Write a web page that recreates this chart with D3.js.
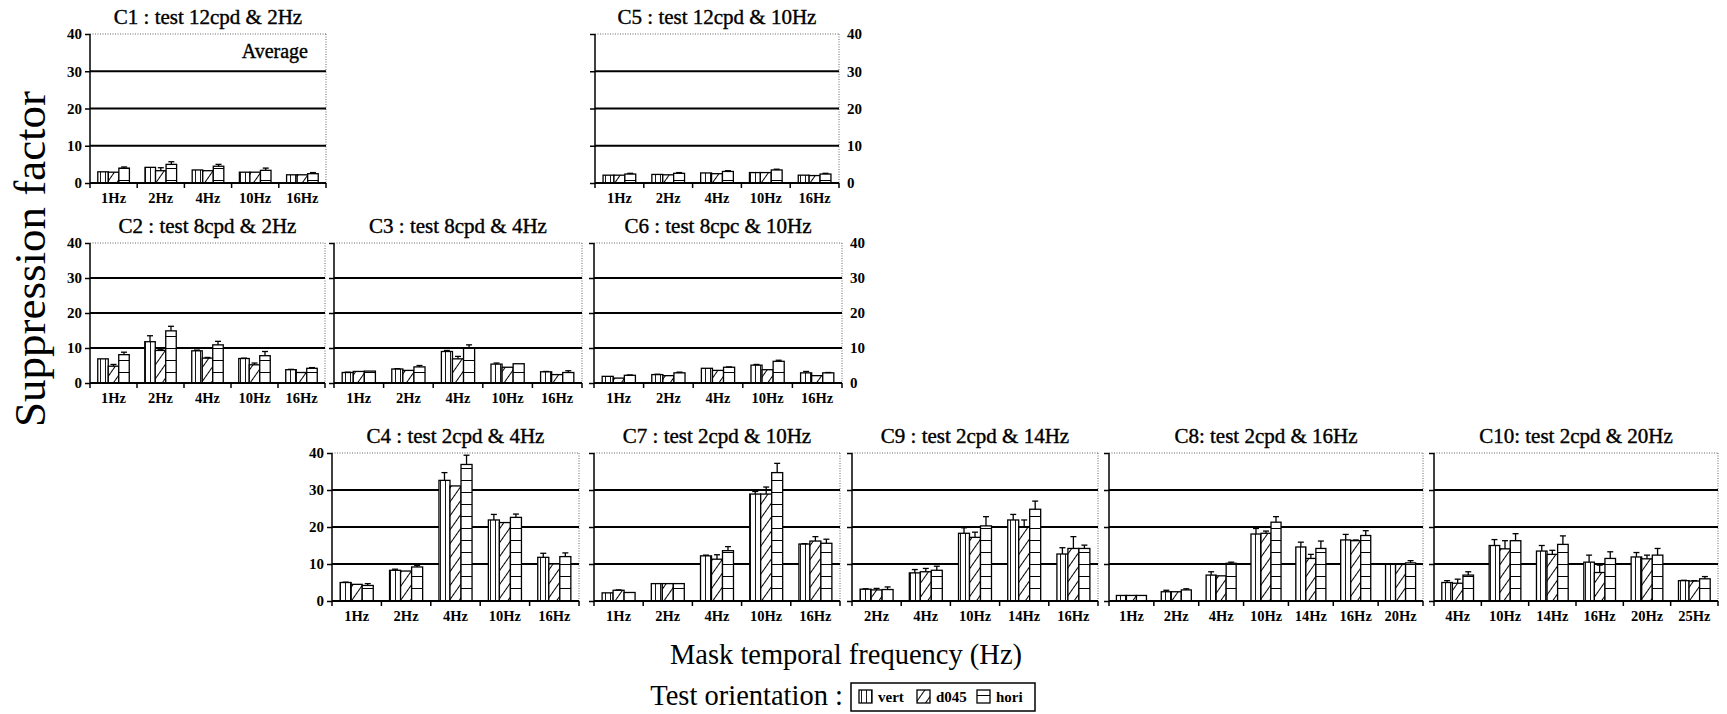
<!DOCTYPE html>
<html>
<head>
<meta charset="utf-8">
<script src="https://cdn.jsdelivr.net/npm/d3@7"></script>
<style>
  body { margin: 0; background: #fff; }
  svg { display: block; }
</style>
</head>
<body>
<div id="chart"></div>
<script>
// ---- data (suppression factor) ----
const seriesNames = ['vert', 'd045', 'hori'];
const yTicks = [0, 10, 20, 30, 40];

const c1Cats = ['1Hz', '2Hz', '4Hz', '10Hz', '16Hz'];
const c1Vert = [3.0, 4.2, 3.5, 2.9, 2.2];
const c1D045 = [2.9, 3.3, 3.3, 2.9, 2.2];
const c1Hori = [4.0, 5.0, 4.5, 3.4, 2.5];
const c1ErrVert = [0, 0, 0, 0, 0];
const c1ErrD045 = [0, 0.8, 0, 0, 0];
const c1ErrHori = [0.3, 0.7, 0.5, 0.6, 0.3];

const c5Cats = ['1Hz', '2Hz', '4Hz', '10Hz', '16Hz'];
const c5Vert = [2.1, 2.3, 2.7, 2.8, 2.1];
const c5D045 = [2.1, 2.2, 2.5, 2.8, 2.0];
const c5Hori = [2.4, 2.6, 3.1, 3.5, 2.4];
const c5ErrVert = [0, 0, 0, 0, 0];
const c5ErrD045 = [0, 0, 0, 0, 0];
const c5ErrHori = [0.2, 0.2, 0.2, 0.2, 0.2];

const c2Cats = ['1Hz', '2Hz', '4Hz', '10Hz', '16Hz'];
const c2Vert = [6.9, 11.8, 9.2, 7.0, 3.8];
const c2D045 = [4.8, 9.3, 7.1, 5.2, 3.0];
const c2Hori = [8.1, 14.9, 10.9, 7.8, 4.2];
const c2ErrVert = [0, 1.7, 0.2, 0.1, 0.1];
const c2ErrD045 = [0.5, 0.2, 0.2, 0.5, 0];
const c2ErrHori = [0.7, 1.3, 1.0, 1.2, 0.2];

const c3Cats = ['1Hz', '2Hz', '4Hz', '10Hz', '16Hz'];
const c3Vert = [3.0, 4.0, 9.0, 5.4, 3.2];
const c3D045 = [3.3, 3.6, 6.9, 4.5, 2.4];
const c3Hori = [3.4, 4.6, 9.9, 5.5, 3.0];
const c3ErrVert = [0.1, 0.1, 0.3, 0.3, 0.1];
const c3ErrD045 = [0, 0, 0.7, 0, 0];
const c3ErrHori = [0, 0.4, 1.0, 0, 0.5];

const c6Cats = ['1Hz', '2Hz', '4Hz', '10Hz', '16Hz'];
const c6Vert = [1.9, 2.4, 4.2, 5.1, 2.9];
const c6D045 = [1.4, 2.1, 3.6, 3.8, 2.1];
const c6Hori = [2.2, 2.9, 4.5, 6.2, 2.9];
const c6ErrVert = [0, 0.1, 0, 0.2, 0.4];
const c6ErrD045 = [0, 0, 0, 0, 0];
const c6ErrHori = [0.1, 0.2, 0.1, 0.3, 0.1];

const c4Cats = ['1Hz', '2Hz', '4Hz', '10Hz', '16Hz'];
const c4Vert = [5.0, 8.3, 32.6, 21.9, 11.8];
const c4D045 = [4.5, 8.1, 31.1, 21.2, 10.0];
const c4Hori = [4.2, 9.2, 36.9, 22.6, 12.0];
const c4ErrVert = [0.1, 0.3, 2.1, 1.5, 1.1];
const c4ErrD045 = [0, 0, 0, 0, 0];
const c4ErrHori = [0.5, 0.4, 2.5, 0.9, 1.0];

const c7Cats = ['1Hz', '2Hz', '4Hz', '10Hz', '16Hz'];
const c7Vert = [2.2, 4.7, 12.2, 28.9, 15.4];
const c7D045 = [2.9, 4.7, 11.3, 28.9, 16.2];
const c7Hori = [2.3, 4.7, 13.6, 34.7, 15.6];
const c7ErrVert = [0, 0, 0.2, 0.7, 0.1];
const c7ErrD045 = [0.1, 0, 1.2, 1.9, 1.2];
const c7ErrHori = [0, 0, 1.1, 2.5, 1.1];

const c9Cats = ['2Hz', '4Hz', '10Hz', '14Hz', '16Hz'];
const c9Vert = [3.2, 7.6, 18.3, 21.9, 12.7];
const c9D045 = [3.0, 7.9, 17.2, 19.9, 14.2];
const c9Hori = [3.1, 8.3, 20.3, 24.8, 14.2];
const c9ErrVert = [0.1, 0.9, 1.5, 1.5, 1.7];
const c9ErrD045 = [0.4, 0.9, 1.4, 2.0, 3.2];
const c9ErrHori = [0.7, 1.1, 2.5, 2.2, 0.9];

const c8Cats = ['1Hz', '2Hz', '4Hz', '10Hz', '14Hz', '16Hz', '20Hz'];
const c8Vert = [1.5, 2.5, 7.0, 18.1, 14.6, 16.5, 9.9];
const c8D045 = [1.5, 2.5, 6.8, 18.3, 11.5, 16.3, 9.9];
const c8Hori = [1.5, 3.0, 10.2, 21.3, 14.2, 17.7, 10.3];
const c8ErrVert = [0, 0.4, 0.9, 1.5, 1.3, 1.5, 0.2];
const c8ErrD045 = [0, 0, 0, 0.6, 1.1, 0.2, 0.2];
const c8ErrHori = [0, 0.3, 0.3, 1.5, 2.0, 1.3, 0.6];

const c10Cats = ['4Hz', '10Hz', '14Hz', '16Hz', '20Hz', '25Hz'];
const c10Vert = [5.0, 15.0, 13.5, 10.5, 11.9, 5.5];
const c10D045 = [4.8, 14.1, 12.6, 7.7, 11.4, 5.4];
const c10Hori = [7.0, 16.3, 15.3, 11.5, 12.4, 6.0];
const c10ErrVert = [0.5, 1.6, 1.5, 1.9, 1.2, 0.1];
const c10ErrD045 = [1.1, 2.2, 1.1, 2.0, 1.0, 0.1];
const c10ErrHori = [0.9, 1.9, 2.3, 1.8, 1.8, 0.6];

// ---- layout ----
const W = 1727, H = 714;
const serif = '"Liberation Serif", "Times New Roman", serif';
const rows = { top: [34, 183], mid: [243, 383], bot: [453, 601] };

const panels = [
    { title: 'C1 : test 12cpd & 2Hz', x: [90, 326], row: rows.top, axis: 'left',
      cats: c1Cats, vals: [c1Vert, c1D045, c1Hori], errs: [c1ErrVert, c1ErrD045, c1ErrHori], note: 'Average' },
    { title: 'C5 : test 12cpd & 10Hz', x: [595, 839], row: rows.top, axis: 'right',
      cats: c5Cats, vals: [c5Vert, c5D045, c5Hori], errs: [c5ErrVert, c5ErrD045, c5ErrHori] },
    { title: 'C2 : test 8cpd & 2Hz', x: [90, 325], row: rows.mid, axis: 'left',
      cats: c2Cats, vals: [c2Vert, c2D045, c2Hori], errs: [c2ErrVert, c2ErrD045, c2ErrHori] },
    { title: 'C3 : test 8cpd & 4Hz', x: [334, 582], row: rows.mid, axis: 'none',
      cats: c3Cats, vals: [c3Vert, c3D045, c3Hori], errs: [c3ErrVert, c3ErrD045, c3ErrHori] },
    { title: 'C6 : test 8cpc & 10Hz', x: [594, 842], row: rows.mid, axis: 'right',
      cats: c6Cats, vals: [c6Vert, c6D045, c6Hori], errs: [c6ErrVert, c6ErrD045, c6ErrHori] },
    { title: 'C4 : test 2cpd & 4Hz', x: [332, 579], row: rows.bot, axis: 'left',
      cats: c4Cats, vals: [c4Vert, c4D045, c4Hori], errs: [c4ErrVert, c4ErrD045, c4ErrHori] },
    { title: 'C7 : test 2cpd & 10Hz', x: [594, 840], row: rows.bot, axis: 'none',
      cats: c7Cats, vals: [c7Vert, c7D045, c7Hori], errs: [c7ErrVert, c7ErrD045, c7ErrHori] },
    { title: 'C9 : test 2cpd & 14Hz', x: [852, 1098], row: rows.bot, axis: 'none',
      cats: c9Cats, vals: [c9Vert, c9D045, c9Hori], errs: [c9ErrVert, c9ErrD045, c9ErrHori] },
    { title: 'C8: test 2cpd & 16Hz', x: [1109, 1423], row: rows.bot, axis: 'none',
      cats: c8Cats, vals: [c8Vert, c8D045, c8Hori], errs: [c8ErrVert, c8ErrD045, c8ErrHori] },
    { title: 'C10: test 2cpd & 20Hz', x: [1434, 1718], row: rows.bot, axis: 'none',
      cats: c10Cats, vals: [c10Vert, c10D045, c10Hori], errs: [c10ErrVert, c10ErrD045, c10ErrHori] }
];

const svg = d3.select('#chart')
    .append('svg')
    .attr('width', W)
    .attr('height', H)
    .attr('font-family', serif);

// hatch patterns for the three orientations
const defs = svg.append('defs');
const pVert = defs.append('pattern').attr('id', 'pat-vert')
    .attr('patternUnits', 'userSpaceOnUse').attr('width', 5).attr('height', 10);
pVert.append('rect').attr('width', 5).attr('height', 10).attr('fill', '#fff');
pVert.append('line').attr('x1', 0.5).attr('x2', 0.5).attr('y1', 0).attr('y2', 10)
    .attr('stroke', '#000').attr('stroke-width', 0.9);

const pDiag = defs.append('pattern').attr('id', 'pat-d045')
    .attr('patternUnits', 'userSpaceOnUse').attr('width', 8).attr('height', 8)
    .attr('patternTransform', 'rotate(35)');
pDiag.append('rect').attr('width', 8).attr('height', 8).attr('fill', '#fff');
pDiag.append('line').attr('x1', 0.5).attr('x2', 0.5).attr('y1', 0).attr('y2', 8)
    .attr('stroke', '#000').attr('stroke-width', 1);

const pHori = defs.append('pattern').attr('id', 'pat-hori')
    .attr('patternUnits', 'userSpaceOnUse').attr('width', 10).attr('height', 12);
pHori.append('rect').attr('width', 10).attr('height', 12).attr('fill', '#fff');
pHori.append('line').attr('x1', 0).attr('x2', 10).attr('y1', 0.5).attr('y2', 0.5)
    .attr('stroke', '#000').attr('stroke-width', 1);

const fills = { vert: 'url(#pat-vert)', d045: 'url(#pat-d045)', hori: 'url(#pat-hori)' };

panels.forEach(p => {
    const [x0, x1] = p.x;
    const [y0, y1] = p.row;
    const g = svg.append('g');

    const y = d3.scaleLinear().domain([0, 40]).range([y1, y0]);
    const x = d3.scaleBand().domain(p.cats).range([x0, x1]).paddingInner(0.33).paddingOuter(0.165);
    const xs = d3.scaleBand().domain(seriesNames).range([0, x.bandwidth()]);

    // frame: dotted top and right, solid grid lines
    g.append('line').attr('x1', x0).attr('x2', x1).attr('y1', y(40)).attr('y2', y(40))
        .attr('stroke', '#666').attr('stroke-width', 1).attr('stroke-dasharray', '1,1.5');
    g.append('line').attr('x1', x1).attr('x2', x1).attr('y1', y(40)).attr('y2', y(0))
        .attr('stroke', '#666').attr('stroke-width', 1).attr('stroke-dasharray', '1,1.5');
    g.selectAll('line.grid')
        .data([10, 20, 30])
        .enter()
        .append('line')
        .attr('class', 'grid')
        .attr('x1', x0).attr('x2', x1)
        .attr('y1', d => y(d)).attr('y2', d => y(d))
        .attr('stroke', '#000').attr('stroke-width', 1.8);

    // title
    g.append('text')
        .attr('x', (x0 + x1) / 2)
        .attr('y', y0 - 10)
        .attr('text-anchor', 'middle')
        .attr('font-size', 21)
        .attr('fill', '#000')
        .attr('stroke', '#000')
        .attr('stroke-width', 0.4)
        .text(p.title);

    if (p.note) {
        g.append('text')
            .attr('x', x1 - 18)
            .attr('y', y0 + 24)
            .attr('text-anchor', 'end')
            .attr('font-size', 20)
            .attr('fill', '#000')
            .attr('stroke', '#000')
            .attr('stroke-width', 0.4)
            .text(p.note);
    }

    // bars
    p.cats.forEach((c, i) => {
        seriesNames.forEach((s, k) => {
            const v = p.vals[k][i];
            const e = p.errs[k][i];
            const bx = x(c) + xs(s);
            const bw = xs.bandwidth();
            g.append('rect')
                .attr('x', bx)
                .attr('y', y(v))
                .attr('width', bw)
                .attr('height', y(0) - y(v))
                .attr('fill', fills[s])
                .attr('stroke', '#000')
                .attr('stroke-width', 1.3);
            if (e > 0.05) {
                const cx = bx + bw / 2;
                g.append('line').attr('x1', cx).attr('x2', cx)
                    .attr('y1', y(v)).attr('y2', y(v + e))
                    .attr('stroke', '#000').attr('stroke-width', 1.3);
                g.append('line').attr('x1', cx - 3).attr('x2', cx + 3)
                    .attr('y1', y(v + e)).attr('y2', y(v + e))
                    .attr('stroke', '#000').attr('stroke-width', 1.3);
            }
        });
    });

    // y axis on the left
    const yAxis = d3.axisLeft(y).tickValues(yTicks).tickSize(5).tickPadding(3);
    if (p.axis !== 'left') yAxis.tickFormat('');
    const ya = g.append('g').attr('transform', `translate(${x0},0)`).call(yAxis);
    ya.select('.domain').remove();
    ya.append('line').attr('x1', 0).attr('x2', 0).attr('y1', y(40)).attr('y2', y(0))
        .attr('stroke', '#000').attr('stroke-width', 1.8);
    ya.selectAll('line').attr('stroke', '#000').attr('stroke-width', 1.5);
    ya.selectAll('text')
        .attr('font-family', serif).attr('font-size', 15).attr('font-weight', 'bold').attr('fill', '#000');

    if (p.axis === 'right') {
        const ra = g.append('g').attr('transform', `translate(${x1},0)`)
            .call(d3.axisRight(y).tickValues(yTicks).tickSize(0).tickPadding(8));
        ra.select('.domain').remove();
        ra.selectAll('text')
            .attr('font-family', serif).attr('font-size', 15).attr('font-weight', 'bold').attr('fill', '#000');
    }

    // x axis: labels under each group, ticks between groups
    const xa = g.append('g').attr('transform', `translate(0,${y1})`)
        .call(d3.axisBottom(x).tickSize(0).tickPadding(10));
    xa.select('.domain').remove();
    xa.selectAll('text')
        .attr('font-family', serif).attr('font-size', 14.5).attr('font-weight', 'bold').attr('fill', '#000');
    xa.append('line').attr('x1', x0).attr('x2', x1).attr('y1', 0).attr('y2', 0)
        .attr('stroke', '#000').attr('stroke-width', 1.8);
    xa.selectAll('line.bound')
        .data(d3.range(p.cats.length + 1))
        .enter()
        .append('line')
        .attr('class', 'bound')
        .attr('x1', i => x0 + i * x.step()).attr('x2', i => x0 + i * x.step())
        .attr('y1', 0).attr('y2', 5)
        .attr('stroke', '#000').attr('stroke-width', 1.5);
});

// shared axis titles
svg.append('text')
    .attr('transform', 'translate(45,259) rotate(-90)')
    .attr('text-anchor', 'middle')
    .attr('font-size', 45)
    .attr('fill', '#000')
    .text('Suppression factor');

svg.append('text')
    .attr('x', 846)
    .attr('y', 664)
    .attr('text-anchor', 'middle')
    .attr('font-size', 28.5)
    .attr('fill', '#000')
    .text('Mask temporal frequency (Hz)');

// legend
svg.append('text')
    .attr('x', 843)
    .attr('y', 705)
    .attr('text-anchor', 'end')
    .attr('font-size', 28.5)
    .attr('fill', '#000')
    .text('Test orientation :');

const legend = svg.append('g').attr('transform', 'translate(851,683)');
legend.append('rect')
    .attr('width', 184).attr('height', 28)
    .attr('fill', '#fff').attr('stroke', '#000').attr('stroke-width', 1.5);
const legendX = [8, 66, 126];
seriesNames.forEach((s, k) => {
    legend.append('rect')
        .attr('x', legendX[k]).attr('y', 7)
        .attr('width', 13).attr('height', 13)
        .attr('fill', fills[s]).attr('stroke', '#000').attr('stroke-width', 1.3);
    legend.append('text')
        .attr('x', legendX[k] + 19).attr('y', 19)
        .attr('font-size', 15).attr('font-weight', 'bold').attr('fill', '#000')
        .text(s);
});
</script>
</body>
</html>
